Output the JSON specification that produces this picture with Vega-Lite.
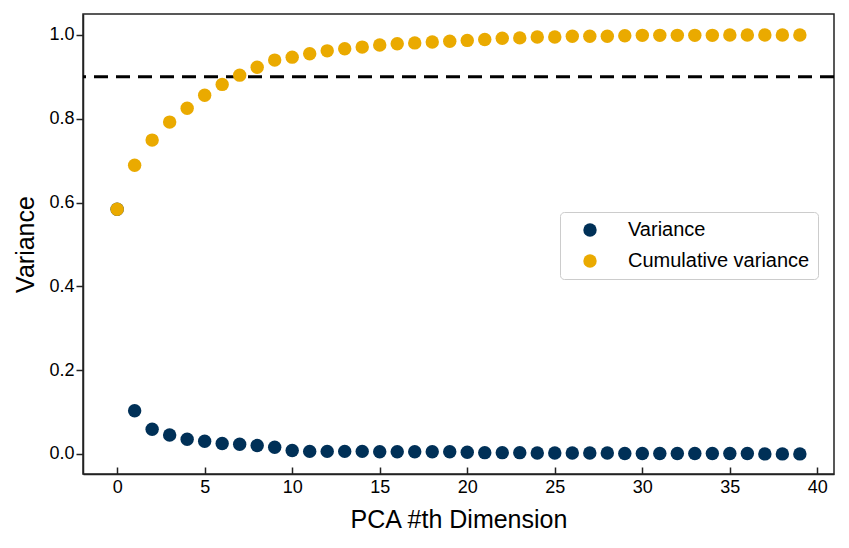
{
  "$schema": "https://vega.github.io/schema/vega-lite/v6.json",
  "autosize": {"type": "none"},
  "padding": {"left": 83, "top": 14, "right": 15, "bottom": 74},
  "width": 751,
  "height": 460,
  "background": "white",
  "config": {
    "font": "Liberation Sans",
    "view": {"stroke": "#222222", "strokeWidth": 1.5},
    "axis": {"labelFont": "Liberation Sans", "titleFont": "Liberation Sans", "labelColor": "black", "titleColor": "black", "grid": false, "domainColor": "#222222", "tickColor": "#222222", "domainWidth": 1.5, "tickWidth": 1.5, "titleFontWeight": "normal"}
  },
  "datasets": {
    "pca": [
      {"dim": 0, "series": "Variance", "value": 0.584},
      {"dim": 1, "series": "Variance", "value": 0.103},
      {"dim": 2, "series": "Variance", "value": 0.059},
      {"dim": 3, "series": "Variance", "value": 0.045},
      {"dim": 4, "series": "Variance", "value": 0.035},
      {"dim": 5, "series": "Variance", "value": 0.030},
      {"dim": 6, "series": "Variance", "value": 0.025},
      {"dim": 7, "series": "Variance", "value": 0.023},
      {"dim": 8, "series": "Variance", "value": 0.020},
      {"dim": 9, "series": "Variance", "value": 0.016},
      {"dim": 10, "series": "Variance", "value": 0.008},
      {"dim": 11, "series": "Variance", "value": 0.006},
      {"dim": 12, "series": "Variance", "value": 0.006},
      {"dim": 13, "series": "Variance", "value": 0.006},
      {"dim": 14, "series": "Variance", "value": 0.006},
      {"dim": 15, "series": "Variance", "value": 0.005},
      {"dim": 16, "series": "Variance", "value": 0.005},
      {"dim": 17, "series": "Variance", "value": 0.005},
      {"dim": 18, "series": "Variance", "value": 0.005},
      {"dim": 19, "series": "Variance", "value": 0.005},
      {"dim": 20, "series": "Variance", "value": 0.004},
      {"dim": 21, "series": "Variance", "value": 0.003},
      {"dim": 22, "series": "Variance", "value": 0.003},
      {"dim": 23, "series": "Variance", "value": 0.003},
      {"dim": 24, "series": "Variance", "value": 0.002},
      {"dim": 25, "series": "Variance", "value": 0.002},
      {"dim": 26, "series": "Variance", "value": 0.002},
      {"dim": 27, "series": "Variance", "value": 0.002},
      {"dim": 28, "series": "Variance", "value": 0.002},
      {"dim": 29, "series": "Variance", "value": 0.001},
      {"dim": 30, "series": "Variance", "value": 0.001},
      {"dim": 31, "series": "Variance", "value": 0.001},
      {"dim": 32, "series": "Variance", "value": 0.001},
      {"dim": 33, "series": "Variance", "value": 0.001},
      {"dim": 34, "series": "Variance", "value": 0.001},
      {"dim": 35, "series": "Variance", "value": 0.001},
      {"dim": 36, "series": "Variance", "value": 0.001},
      {"dim": 37, "series": "Variance", "value": 0.000},
      {"dim": 38, "series": "Variance", "value": 0.000},
      {"dim": 39, "series": "Variance", "value": 0.000},
      {"dim": 0, "series": "Cumulative variance", "value": 0.584},
      {"dim": 1, "series": "Cumulative variance", "value": 0.689},
      {"dim": 2, "series": "Cumulative variance", "value": 0.749},
      {"dim": 3, "series": "Cumulative variance", "value": 0.792},
      {"dim": 4, "series": "Cumulative variance", "value": 0.825},
      {"dim": 5, "series": "Cumulative variance", "value": 0.856},
      {"dim": 6, "series": "Cumulative variance", "value": 0.882},
      {"dim": 7, "series": "Cumulative variance", "value": 0.904},
      {"dim": 8, "series": "Cumulative variance", "value": 0.923},
      {"dim": 9, "series": "Cumulative variance", "value": 0.940},
      {"dim": 10, "series": "Cumulative variance", "value": 0.947},
      {"dim": 11, "series": "Cumulative variance", "value": 0.955},
      {"dim": 12, "series": "Cumulative variance", "value": 0.962},
      {"dim": 13, "series": "Cumulative variance", "value": 0.967},
      {"dim": 14, "series": "Cumulative variance", "value": 0.971},
      {"dim": 15, "series": "Cumulative variance", "value": 0.976},
      {"dim": 16, "series": "Cumulative variance", "value": 0.979},
      {"dim": 17, "series": "Cumulative variance", "value": 0.981},
      {"dim": 18, "series": "Cumulative variance", "value": 0.983},
      {"dim": 19, "series": "Cumulative variance", "value": 0.985},
      {"dim": 20, "series": "Cumulative variance", "value": 0.987},
      {"dim": 21, "series": "Cumulative variance", "value": 0.989},
      {"dim": 22, "series": "Cumulative variance", "value": 0.992},
      {"dim": 23, "series": "Cumulative variance", "value": 0.993},
      {"dim": 24, "series": "Cumulative variance", "value": 0.995},
      {"dim": 25, "series": "Cumulative variance", "value": 0.995},
      {"dim": 26, "series": "Cumulative variance", "value": 0.997},
      {"dim": 27, "series": "Cumulative variance", "value": 0.997},
      {"dim": 28, "series": "Cumulative variance", "value": 0.997},
      {"dim": 29, "series": "Cumulative variance", "value": 0.998},
      {"dim": 30, "series": "Cumulative variance", "value": 0.999},
      {"dim": 31, "series": "Cumulative variance", "value": 0.999},
      {"dim": 32, "series": "Cumulative variance", "value": 0.999},
      {"dim": 33, "series": "Cumulative variance", "value": 0.999},
      {"dim": 34, "series": "Cumulative variance", "value": 0.999},
      {"dim": 35, "series": "Cumulative variance", "value": 1.0},
      {"dim": 36, "series": "Cumulative variance", "value": 1.0},
      {"dim": 37, "series": "Cumulative variance", "value": 1.0},
      {"dim": 38, "series": "Cumulative variance", "value": 1.0},
      {"dim": 39, "series": "Cumulative variance", "value": 1.0}
    ],
    "threshold": [{"y": 0.9}]
  },
  "layer": [
    {
      "data": {"name": "threshold"},
      "mark": {"type": "rule", "color": "black", "strokeWidth": 3, "strokeDash": [14, 8]},
      "encoding": {"y": {"field": "y", "type": "quantitative"}}
    },
    {
      "data": {"name": "pca"},
      "mark": {"type": "point", "filled": true, "opacity": 1, "size": 180},
      "encoding": {
        "x": {
          "field": "dim", "type": "quantitative",
          "scale": {"domain": [-1.95, 40.95], "nice": false, "zero": false},
          "axis": {"title": "PCA #th Dimension", "values": [0, 5, 10, 15, 20, 25, 30, 35, 40], "tickSize": -7, "labelPadding": 11, "labelFontSize": 18, "titleFontSize": 25, "titlePadding": 11}
        },
        "y": {
          "field": "value", "type": "quantitative",
          "scale": {"domain": [-0.048, 1.05], "nice": false, "zero": false},
          "axis": {"title": "Variance", "values": [0, 0.2, 0.4, 0.6, 0.8, 1.0], "format": ".1f", "tickSize": 7, "labelPadding": 2, "labelFontSize": 18, "titleFontSize": 25, "titlePadding": 10}
        },
        "color": {
          "field": "series", "type": "nominal",
          "scale": {"domain": ["Variance", "Cumulative variance"], "range": ["#003057", "#EAAA00"]},
          "legend": {"title": null, "orient": "none", "legendX": 477, "legendY": 198, "labelFontSize": 20, "labelLimit": 400, "labelColor": "black", "symbolSize": 180, "symbolType": "circle", "symbolOpacity": 1, "strokeColor": "#cccccc", "fillColor": "white", "cornerRadius": 4, "padding": 8, "symbolOffset": 12, "labelOffset": 28, "rowPadding": 11}
        }
      }
    }
  ]
}
